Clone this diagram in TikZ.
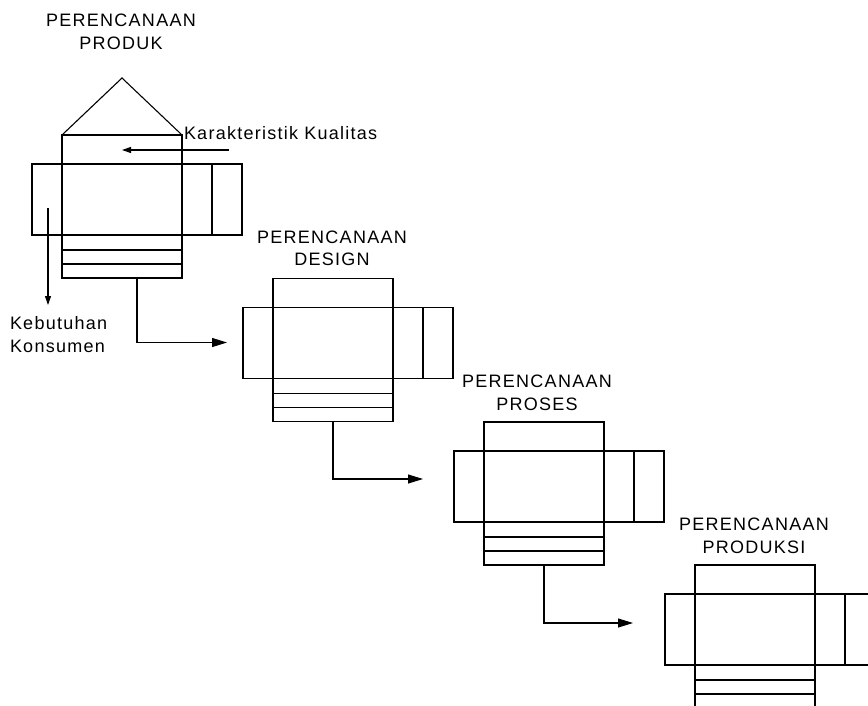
\documentclass[tikz,border=0pt]{standalone}
\usepackage{fontspec}
\setmainfont{Liberation Sans}[LetterSpace=7]
\usetikzlibrary{arrows.meta,calc}

\begin{document}
\begin{tikzpicture}
    [
    x=1pt, y=-1pt,
    line width=1.1pt,
    every node/.style={inner sep=0pt, outer sep=0pt},
    column/.style={draw, anchor=north west, minimum width=120pt, minimum height=143pt},
    wide/.style={draw, anchor=north west, minimum width=210pt, minimum height=71pt},
    title/.style={align=center, font=\fontsize{18}{22.5}\selectfont},
    lbl/.style={align=left, anchor=base west, font=\fontsize{18}{23.3}\selectfont},
    flow/.style={-{Triangle[length=15pt,width=9pt]}},
    hint/.style={-{Triangle[length=9pt,width=6pt]}},
    ]
    \useasboundingbox (0,0) rectangle (868,705);
    \clip (0,0) rectangle (868,705);

    % the four planning houses
    \foreach \i/\x/\y/\tx/\ty/\name in {1/62/135/121/32/PRODUK,
        2/273/278.5/332/248.5/DESIGN,
        3/484/422/537/393/PROSES,
        4/695/565/754/536/PRODUKSI}
    {
      \node[wide] (wide\i) at (\x-30,\y+29) {};
      \node[column] (col\i) at (\x,\y) {};
      \draw ($(wide\i.north east)+(-30,0)$) -- ($(wide\i.south east)+(-30,0)$);
      \draw ($(col\i.south west)+(0,-14)$) -- ($(col\i.south east)+(0,-14)$);
      \draw ($(col\i.south west)+(0,-28)$) -- ($(col\i.south east)+(0,-28)$);
      \node[title] (title\i) at (\tx,\ty) {PERENCANAAN\\\name};
    }

    % roof of the first house
    \coordinate (roof) at (122,78);
    \draw (col1.north west) -- (roof) -- (col1.north east);

    % labels
    \node[lbl] (quality) at (184,139.5) {Karakteristik Kualitas};
    \node[lbl] (needs) at (10,352.7) {Kebutuhan\\Konsumen};
    \coordinate (q1) at (229,150);
    \coordinate (q2) at (122,150);
    \coordinate (n1) at (48,208);
    \coordinate (n2) at (48,305);
    \draw[hint] (q1) -- (q2);
    \draw[hint] (n1) -- (n2);

    % flow between houses
    \coordinate (a1) at (227,342.5);
    \coordinate (a2) at (423,479);
    \coordinate (a3) at (633,623);
    \draw[flow] ($(col1.south)+(15,0)$) |- (a1);
    \draw[flow] (col2.south) |- (a2);
    \draw[flow] (col3.south) |- (a3);
  \end{tikzpicture}
\end{document}
